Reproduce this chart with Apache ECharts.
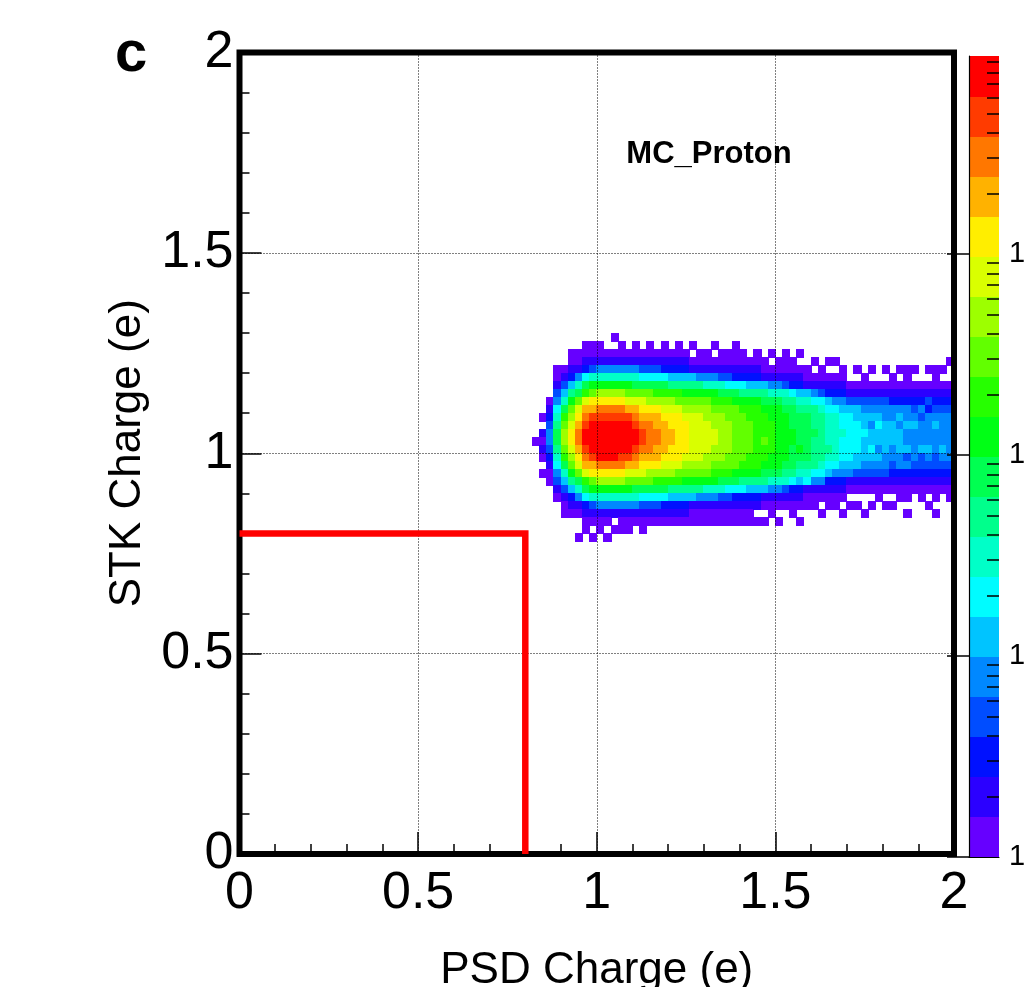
<!DOCTYPE html>
<html>
<head>
<meta charset="utf-8">
<script src="https://cdn.jsdelivr.net/npm/echarts@6.0.0/dist/echarts.min.js"></script>
<style>
html, body { margin: 0; padding: 0; background: #fff; }
#chart { width: 1024px; height: 987px; }
</style>
</head>
<body>
<div id="chart"></div>
<script>
// 2D histogram, binned 0.02 x 0.02.
// one string per PSD column (from 0.80), rows of STK charge from 1.30 downwards,
// '|' sits at STK = 1.04. chars: '.' empty, 0-9 and a-j = colour level 0..19
var xBinStart = 0.8;
var yBinTop = 1.3;
var binW = 0.02;
var binH = 0.02;
var rowsAbove = 13;

var levelCols = [
    ".............|.............", // 0.80
    ".............|0............",
    "..........0.1|010.0........",
    "........01234|432100.......",
    "....001346789|98764310.....",
    "....013579bcd|dcb9753100...", // 0.90
    "..001258acdef|fedca85210...",
    "..001479cefgh|hgfec97410..0",
    ".001269beghij|jihgeb962100.",
    ".00137acfgijj|jjigfca7310.0",
    ".00147adfhijj|jjjhfda74100.", // 1.00
    "..0147adfhijj|jjjhfda7410.0",
    "0.0147adfhijj|jjjhfda741.0.",
    ".00147adfhijj|jjihfda74100.",
    "..0147acegijj|jjigeca74100.",
    ".001479ceghij|jihgec97410..", // 1.10
    "..01369cefghi|ihgfec963100.",
    ".001369cdfghh|hhgfdc96310..",
    "..01369bdfggh|hggfdb96310..",
    ".001269bdefgg|ggfedb96210..",
    "..01258bdeffg|gffedb85210..", // 1.20
    ".001258bcefff|fffecb85210..",
    "..01258acdeff|ffedca85210..",
    ".0.0158acdeee|eeedca85100..",
    "..00148acdeee|eeedca84100..",
    "..00147acddee|eeddca74100..", // 1.30
    ".0.0147abcdde|eddcba74100..",
    "..001379bcddd|dddcb973100..",
    "..001369bccdd|ddccb963100..",
    ".0001269acccc|cccca962100..",
    "..001268abccc|cccba862100..", // 1.40
    "...01258abbcc|ccbba852100..",
    "..001258abbbb|bbbba8521.0..",
    "...001589abbb|cbba98510.0..",
    "..0.01479aabb|bbaa974100...",
    "...001479aaaa|aaaa97410.0..", // 1.50
    "..00013789aaa|aaa987310....",
    "...001268999a|a999862100...",
    "..0.012578999|9a9875210.0..",
    "....001578999|999876100....",
    "...0.01468889|888864100....", // 1.60
    "....001367888|88876410.0...",
    "...0.01256777|787652100....",
    "...0.01246777|777642100....",
    "....001245667|66654210.0...",
    "......0135666|6665410.0....", // 1.70
    "....0.0135566|6655310.0....",
    ".....00134556|5554310..0...",
    "....0.0134545|5654310.0....",
    "......0134565|54543100.....",
    "....0.0134455|5544310.0....", // 1.80
    ".....00124455|5443210.0....",
    "....0.0124545|55442100.....",
    "....000124454|45342100.0...",
    "....0.0123454|4443210......",
    "......0124344|45332100.....", // 1.90
    "....0.0132444|4543210.0....",
    "....000123454|44332100.0...",
    "....0.0123444|4543210......",
    "...0..0123444|44432100....."
];

// colour contours, bottom (1 count) to top
var palette = [
    '#6600ff', '#2b00ff', '#0011ff', '#004dff', '#0088ff',
    '#00c4ff', '#00fcff', '#00ffc8', '#00ff8c', '#00ff51',
    '#00ff15', '#26ff00', '#62ff00', '#9dff00', '#d9ff00',
    '#ffee00', '#ffb200', '#ff7700', '#ff3b00', '#ff0000'
];
var cbMax = 9660;
var cbMajor = [1, 10, 100, 1000];
var cbMajorText = ['1', '10', '10²', '10³'];
var cbMinor = [2, 3, 4, 5, 6, 7, 8, 9, 20, 30, 40, 50, 60, 70, 80, 90,
    200, 300, 400, 500, 600, 700, 800, 900, 2000, 3000, 4000, 5000, 6000, 7000, 8000, 9000];

var cutLine = [[0, 0.8], [0.8, 0.8], [0.8, 0]];

var fontFam = '"Liberation Sans", Arial, Helvetica, sans-serif';

function levelOf(ch) {
    var code = ch.charCodeAt(0);
    if (code >= 48 && code <= 57) return code - 48;
    return code - 97 + 10;
}

var cells = [];
function addCell(c, r, ch) {
    if (ch === '.') return;
    cells.push([xBinStart + c * binW, yBinTop - (r + 1) * binH, levelOf(ch)]);
}
levelCols.forEach(function (col, c) {
    var parts = col.split('|');
    var top = parts[0], bot = parts[1];
    for (var i = 0; i < top.length; i++) addCell(c, rowsAbove - top.length + i, top[i]);
    for (var j = 0; j < bot.length; j++) addCell(c, rowsAbove + j, bot[j]);
});

var logMax = Math.log10(cbMax);
var bandStep = logMax / palette.length;
var bands = palette.map(function (p, k) {
    return [0, k * bandStep, k, (k + 1) * bandStep];
});

var chart = echarts.init(document.getElementById('chart'));
chart.setOption({
    animation: false,
    backgroundColor: '#fff',
    textStyle: { fontFamily: fontFam },
    grid: [{
        left: 239.5, top: 52.5, width: 714.5, height: 801.5,
        show: true, borderColor: '#000', borderWidth: 6, z: 6,
        outerBoundsMode: 'none'
    }, {
        left: 969, top: 56, width: 30, height: 801,
        outerBoundsMode: 'none'
    }],
    visualMap: [{
        type: 'piecewise',
        show: false,
        dimension: 2,
        seriesIndex: [0, 2],
        pieces: palette.map(function (p, k) { return { value: k, color: p }; })
    }],
    xAxis: [{
        gridIndex: 0, type: 'value', min: 0, max: 2, interval: 0.5, z: 5,
        axisLine: { show: false },
        axisTick: { show: true, inside: true, length: 22, lineStyle: { color: '#000', width: 1.5 } },
        minorTick: { show: true, splitNumber: 5, length: 10, lineStyle: { color: '#000', width: 1.5 } },
        splitLine: { show: true, lineStyle: { color: '#000', width: 1, type: [1, 2] } },
        axisLabel: { fontSize: 52, color: '#000', margin: 14, fontFamily: fontFam },
        name: 'PSD Charge (e)', nameLocation: 'middle', nameGap: 95,
        nameTextStyle: { fontSize: 44, color: '#000', fontFamily: fontFam }
    }, {
        gridIndex: 1, type: 'value', min: 0, max: 1, z: 5,
        axisLine: { show: true, lineStyle: { color: '#000', width: 1.2 } },
        axisTick: { show: false }, axisLabel: { show: false }, splitLine: { show: false }
    }],
    yAxis: [{
        gridIndex: 0, type: 'value', min: 0, max: 2, interval: 0.5, z: 5,
        axisLine: { show: false },
        axisTick: { show: true, inside: true, length: 22, lineStyle: { color: '#000', width: 1.5 } },
        minorTick: { show: true, splitNumber: 5, length: 10, lineStyle: { color: '#000', width: 1.5 } },
        splitLine: { show: true, lineStyle: { color: '#000', width: 1, type: [1, 2] } },
        axisLabel: { fontSize: 52, color: '#000', margin: 6, fontFamily: fontFam },
        name: 'STK Charge (e)', nameLocation: 'middle', nameGap: 88,
        nameTextStyle: { fontSize: 44, color: '#000', fontFamily: fontFam }
    }, {
        gridIndex: 1, type: 'value', position: 'right', min: 0, max: logMax, z: 5,
        axisLine: { show: true, lineStyle: { color: '#000', width: 1.2 } },
        axisTick: {
            show: true, inside: true, length: 22,
            customValues: cbMajor.map(Math.log10),
            lineStyle: { color: '#000', width: 1.5 }
        },
        axisLabel: {
            show: true, fontSize: 29, color: '#000', margin: 10, fontFamily: fontFam,
            customValues: cbMajor.map(Math.log10),
            formatter: function (v) { return cbMajorText[Math.round(v)]; }
        },
        splitLine: { show: false }
    }, {
        gridIndex: 1, type: 'value', position: 'right', min: 0, max: logMax, z: 5,
        axisLine: { show: false },
        axisTick: {
            show: true, inside: true, length: 12,
            customValues: cbMinor.map(Math.log10),
            lineStyle: { color: '#000', width: 1.5 }
        },
        axisLabel: { show: false },
        splitLine: { show: false }
    }],
    series: [{
        type: 'custom',
        xAxisIndex: 0, yAxisIndex: 0,
        z: 2,
        clip: true,
        data: cells,
        renderItem: function (params, api) {
            var a = api.coord([api.value(0), api.value(1) + binH]);
            var b = api.coord([api.value(0) + binW, api.value(1)]);
            var x0 = Math.floor(a[0]), y0 = Math.floor(a[1]);
            return {
                type: 'rect',
                shape: { x: x0, y: y0, width: Math.ceil(b[0]) - x0, height: Math.ceil(b[1]) - y0 },
                style: { fill: api.visual('color') }
            };
        }
    }, {
        type: 'line',
        xAxisIndex: 0, yAxisIndex: 0,
        z: 10,
        data: cutLine,
        symbol: 'none',
        lineStyle: { color: '#ff0000', width: 6.5, join: 'miter' }
    }, {
        type: 'custom',
        xAxisIndex: 1, yAxisIndex: 1,
        z: 2,
        data: bands,
        renderItem: function (params, api) {
            var a = api.coord([0, api.value(3)]);
            var b = api.coord([1, api.value(1)]);
            return {
                type: 'rect',
                shape: { x: a[0], y: Math.floor(a[1]), width: b[0] - a[0], height: Math.ceil(b[1]) - Math.floor(a[1]) },
                style: { fill: api.visual('color') }
            };
        }
    }],
    graphic: [{
        type: 'text', x: 115, y: 55, z: 20,
        style: { text: 'c', font: 'bold 58px ' + fontFam, fill: '#000', align: 'left', verticalAlign: 'middle' }
    }, {
        type: 'text', x: 709, y: 154, z: 20,
        style: { text: 'MC_Proton', font: 'bold 31px ' + fontFam, fill: '#000', align: 'center', verticalAlign: 'middle' }
    }]
});
</script>
</body>
</html>
